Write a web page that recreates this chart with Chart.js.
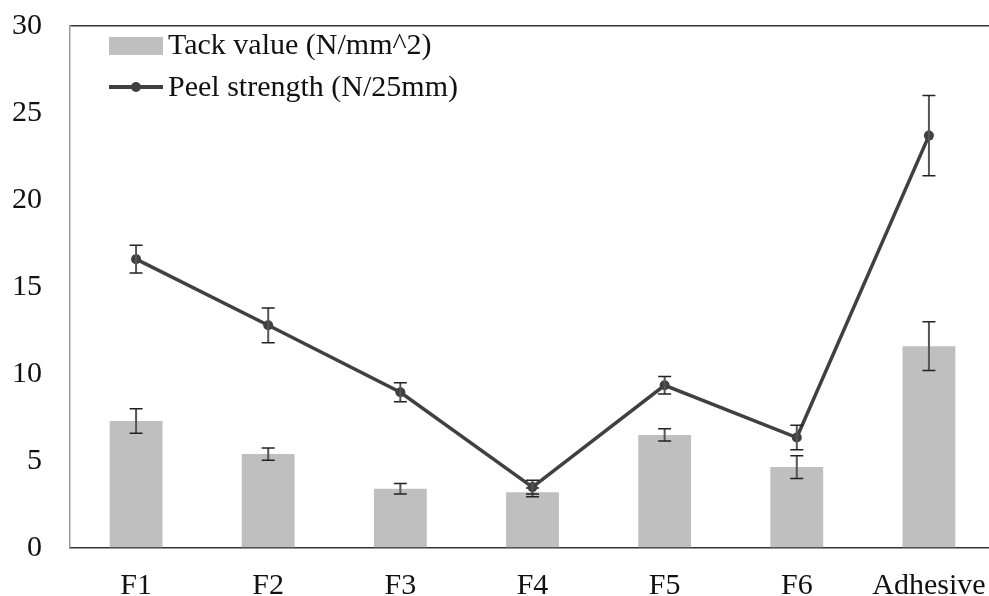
<!DOCTYPE html>
<html>
<head>
<meta charset="utf-8">
<title>Tack value and peel strength</title>
<script src="https://cdn.jsdelivr.net/npm/chart.js@4.4.1/dist/chart.umd.min.js"></script>
<style>
  html, body { margin: 0; padding: 0; background: #fff; overflow: hidden; }
  #wrap { position: relative; width: 989px; height: 596px; overflow: hidden; }
  #myChart { position: absolute; left: 0; top: 0; }
  #legend { position: absolute; left: 0; top: 0; font-family: 'Liberation Serif', 'Times New Roman', serif; font-size: 30px; color: #111; }
  .legend-item { position: absolute; left: 109px; height: 30px; line-height: 30px; white-space: nowrap; }
  .legend-item .box { position: absolute; left: 0; top: 8px; width: 54px; height: 18px; }
  .legend-item .stroke { position: absolute; left: 0; top: 14px; width: 54px; height: 3.5px; }
  .legend-item .dot { position: absolute; left: 22px; top: 11px; width: 10px; height: 10px; border-radius: 50%; }
  .legend-item .text { position: absolute; left: 59px; top: 0; }
</style>
</head>
<body>
<div id="wrap">
  <canvas id="myChart" width="1000" height="596"></canvas>
  <div id="legend"></div>
</div>
<script>
const gLabels = ['F1', 'F2', 'F3', 'F4', 'F5', 'F6', 'Adhesive']
const gTack = [7.3, 5.4, 3.4, 3.2, 6.5, 4.65, 11.6]
const gTackErr = [0.7, 0.35, 0.3, 0.25, 0.35, 0.65, 1.4]
const gPeel = [16.6, 12.8, 8.95, 3.5, 9.35, 6.35, 23.7]
const gPeelErr = [0.8, 1.0, 0.55, 0.4, 0.5, 0.7, 2.3]
const gYTicks = [0, 5, 10, 15, 20, 25, 30]

const gFont = "'Liberation Serif', 'Times New Roman', serif"

// draws +/- error bars on top of each dataset, using the y scale
const errorBars = {
  id: 'errorBars',
  afterDatasetDraw(chart, args) {
    const ds = chart.data.datasets[args.index]
    if (!ds.errors) return
    const ctx = chart.ctx
    const yScale = chart.scales.y
    ctx.save()
    args.meta.data.forEach((el, i) => {
      const top = yScale.getPixelForValue(ds.data[i] + ds.errors[i])
      const bottom = yScale.getPixelForValue(ds.data[i] - ds.errors[i])
      const x = el.x
      // stem
      ctx.strokeStyle = '#555'
      ctx.lineWidth = 2
      ctx.beginPath()
      ctx.moveTo(x, top)
      ctx.lineTo(x, bottom)
      ctx.stroke()
      // caps
      ctx.strokeStyle = '#222'
      ctx.lineWidth = 1.5
      ctx.beginPath()
      ctx.moveTo(x - 6.5, top)
      ctx.lineTo(x + 6.5, top)
      ctx.moveTo(x - 6.5, bottom)
      ctx.lineTo(x + 6.5, bottom)
      ctx.stroke()
    })
    ctx.restore()
  }
}

function buildLegend(chart) {
  const el = document.getElementById('legend')
  const tops = [29, 71]
  chart.data.datasets.forEach((ds, i) => {
    const item = document.createElement('div')
    item.className = 'legend-item'
    item.style.top = tops[i] + 'px'
    if (ds.type === 'bar') {
      const box = document.createElement('span')
      box.className = 'box'
      box.style.background = ds.backgroundColor
      item.appendChild(box)
    } else {
      const stroke = document.createElement('span')
      stroke.className = 'stroke'
      stroke.style.background = ds.borderColor
      const dot = document.createElement('span')
      dot.className = 'dot'
      dot.style.background = ds.pointBackgroundColor
      item.appendChild(stroke)
      item.appendChild(dot)
    }
    const text = document.createElement('span')
    text.className = 'text'
    text.textContent = ds.label
    item.appendChild(text)
    el.appendChild(item)
  })
}

function displayChart() {
  const ctx = document.getElementById('myChart').getContext('2d')
  const chart = new Chart(ctx, {
    data: {
      labels: gLabels,
      datasets: [{
        type: 'bar',
        label: 'Tack value (N/mm^2)',
        data: gTack,
        errors: gTackErr,
        backgroundColor: '#bfbfbf',
        barPercentage: 0.4,
        categoryPercentage: 1,
        order: 1
      }, {
        type: 'line',
        label: 'Peel strength (N/25mm)',
        data: gPeel,
        errors: gPeelErr,
        borderColor: '#404040',
        borderWidth: 3.5,
        pointRadius: 5,
        pointBackgroundColor: '#404040',
        pointBorderWidth: 0,
        tension: 0,
        order: 0
      }]
    },
    options: {
      responsive: false,
      animation: false,
      layout: {
        padding: { left: 0, top: 26, right: 2, bottom: 0 }
      },
      scales: {
        x: {
          grid: { display: false },
          border: { display: true, color: '#333', width: 1.5 },
          afterFit: (scale) => { scale.height = 48 },
          ticks: {
            color: '#111',
            padding: 12,
            font: { family: gFont, size: 30 }
          }
        },
        y: {
          min: 0,
          max: 30,
          afterBuildTicks: (scale) => {
            scale.ticks = gYTicks.map(v => ({ value: v }))
          },
          afterFit: (scale) => {
            scale.width = 70
            scale.paddingTop = 0
            scale.paddingBottom = 0
          },
          grid: {
            drawTicks: false,
            lineWidth: 1.5,
            color: (c) => c.tick && c.tick.value === 30 ? '#333' : 'rgba(0,0,0,0)'
          },
          border: { display: true, color: '#999', width: 1.5 },
          ticks: {
            color: '#111',
            padding: 28,
            font: { family: gFont, size: 30 }
          }
        }
      },
      plugins: {
        legend: { display: false },
        tooltip: { enabled: false }
      }
    },
    plugins: [errorBars]
  })
  buildLegend(chart)
}

displayChart()
</script>
</body>
</html>
